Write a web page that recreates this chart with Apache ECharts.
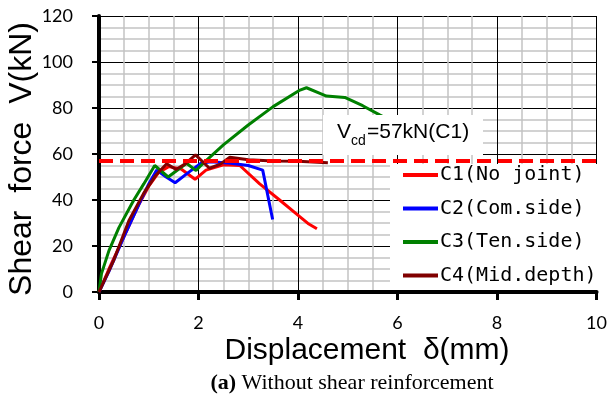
<!DOCTYPE html>
<html>
<head>
<meta charset="utf-8">
<script src="https://cdn.jsdelivr.net/npm/echarts@6/dist/echarts.min.js"></script>
<style>
  html, body { margin: 0; padding: 0; background: #fff; }
  #chart { width: 610px; height: 400px; }
</style>
</head>
<body>
<div id="chart"></div>
<script>
// shear force vs displacement
var names = ['C1(No joint)', 'C2(Com.side)', 'C3(Ten.side)', 'C4(Mid.depth)']
var colors = ['#ff0000', '#0000ff', '#008000', '#800000']

var c1 = [[0, 0], [0.2, 10], [0.5, 24], [0.8, 38], [1.0, 46], [1.2, 52], [1.4, 54.5], [1.65, 53.5],
  [1.93, 49], [2.15, 53], [2.5, 55.3], [2.83, 55], [3.23, 47], [3.63, 40], [4.04, 32.7], [4.2, 29.8], [4.38, 27.5]]
var c2 = [[0, 0], [0.2, 9], [0.5, 24], [0.8, 38], [1.0, 47], [1.16, 53], [1.35, 50], [1.53, 47.5],
  [1.8, 52], [2.05, 56], [2.25, 56.6], [2.65, 56], [3.0, 55], [3.29, 53], [3.49, 31.5]]
var c3 = [[0, 0], [0.05, 8], [0.2, 18], [0.4, 28], [0.7, 40], [0.9, 47], [1.12, 55], [1.39, 50],
  [1.76, 56], [1.95, 52.8], [2.12, 56.5], [2.5, 64], [3.0, 72.6], [3.5, 80.6], [4.04, 87.8], [4.17, 88.8],
  [4.44, 86.4], [4.57, 85.2], [4.94, 84.6], [5.3, 81], [5.64, 77], [5.9, 74]]
var c4 = [[0, 0], [0.3, 14], [0.6, 31], [0.9, 43], [1.15, 51], [1.36, 55.8], [1.55, 53.3], [1.75, 56],
  [1.94, 59.6], [2.22, 53.8], [2.43, 55.5], [2.63, 58.6], [3.0, 57.5], [3.5, 57], [4.0, 56.8], [4.6, 56.2]]
var vcd = 57

var xTicks = [0, 2, 4, 6, 8, 10]
var yTicks = [0, 20, 40, 60, 80, 100, 120]

var chart = echarts.init(document.getElementById('chart'))

var series = [c1, c2, c3, c4].map(function (d, i) {
  return {
    name: names[i],
    type: 'line',
    data: d,
    symbol: 'none',
    z: 2,
    lineStyle: { color: colors[i], width: 3 },
    itemStyle: { color: colors[i] }
  }
})
series.push({
  name: 'Vcd',
  type: 'line',
  data: [[xTicks[0], vcd], [xTicks[xTicks.length - 1], vcd]],
  symbol: 'none',
  z: 7,
  lineStyle: { color: '#ff0000', width: 4, type: [14, 7] }
})

chart.setOption({
  animation: false,
  grid: { left: 99, top: 16, right: 13, bottom: 108 },
  xAxis: {
    type: 'value',
    min: xTicks[0],
    max: xTicks[xTicks.length - 1],
    interval: 2,
    axisLine: { lineStyle: { color: '#000', width: 4 } },
    axisTick: { length: 8, lineStyle: { color: '#000', width: 3 } },
    axisLabel: { margin: 22, fontSize: 18, fontFamily: 'Lato', color: '#000' },
    splitLine: { show: true, lineStyle: { color: '#000', width: 1 } },
    minorTick: { show: true, splitNumber: 4, length: 0 },
    minorSplitLine: { show: true, lineStyle: { color: '#c4c4c4', width: 1.5 } }
  },
  yAxis: {
    type: 'value',
    min: yTicks[0],
    max: yTicks[yTicks.length - 1],
    interval: 20,
    axisLine: { show: true, lineStyle: { color: '#000', width: 4 } },
    axisTick: { show: true, length: 7, lineStyle: { color: '#000', width: 2 } },
    axisLabel: { margin: 26, fontSize: 18, fontFamily: 'Lato', color: '#000' },
    splitLine: { show: true, lineStyle: { color: '#000', width: 1 } },
    minorTick: { show: true, splitNumber: 4, length: 0 },
    minorSplitLine: { show: true, lineStyle: { color: '#c4c4c4', width: 1.5 } }
  },
  legend: {
    data: names,
    orient: 'vertical',
    left: 403,
    top: 165,
    z: 20,
    icon: 'rect',
    itemWidth: 35,
    itemHeight: 4,
    itemGap: 13.5,
    padding: 0,
    textStyle: { fontFamily: 'DejaVu Sans Mono', fontSize: 20, color: '#000', padding: [0, 0, 0, -3] }
  },
  graphic: [
    { type: 'rect', z: 10, shape: { x: 390, y: 164, width: 208, height: 126 }, style: { fill: '#fff' } },
    { type: 'rect', z: 10, shape: { x: 323, y: 115, width: 160, height: 40 }, style: { fill: '#fff' } },
    { type: 'text', z: 11, left: 337, top: 122, style: { text: 'V', font: '21px "Liberation Sans"', fill: '#000' } },
    { type: 'text', z: 11, left: 351, top: 134, style: { text: 'cd', font: '14px "Liberation Sans"', fill: '#000' } },
    { type: 'text', z: 11, left: 367, top: 122, style: { text: '=' + vcd + 'kN(C1)', font: '21px "Liberation Sans"', fill: '#000' } },
    { type: 'text', z: 11, x: 22, y: 159, rotation: Math.PI / 2,
      style: { text: 'Shear  force  V(kN)', font: '32px "Liberation Sans"', fill: '#000', textAlign: 'center', textVerticalAlign: 'middle' } },
    { type: 'text', z: 11, x: 367, y: 351,
      style: { text: 'Displacement  δ(mm)', font: '30px "Liberation Sans"', fill: '#000', textAlign: 'center', textVerticalAlign: 'middle' } },
    { type: 'text', z: 11, x: 352, y: 383,
      style: {
        text: '{b|(a)} Without shear reinforcement',
        font: '22px "Liberation Serif"', fill: '#000', textAlign: 'center', textVerticalAlign: 'middle',
        rich: { b: { font: 'bold 22px "Liberation Serif"', fill: '#000' } }
      } }
  ],
  series: series
})
</script>
</body>
</html>
